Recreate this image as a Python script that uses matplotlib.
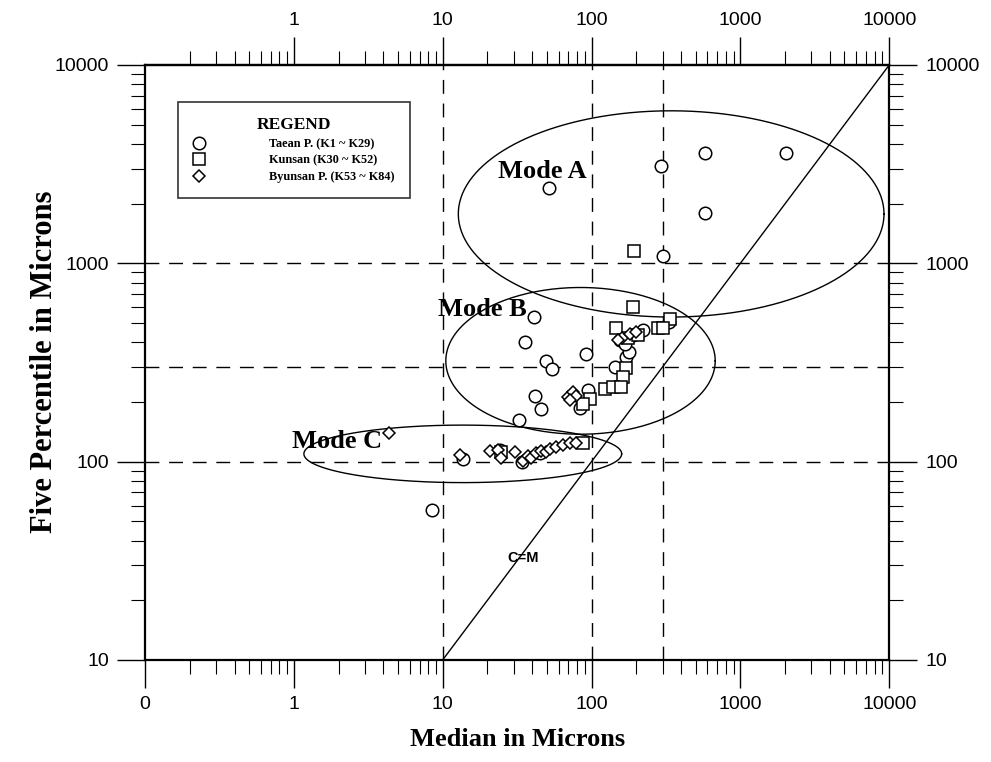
import numpy as np
import matplotlib.pyplot as plt
from matplotlib.lines import Line2D
from matplotlib.ticker import LogLocator, NullFormatter

# Taean P. (K1 ~ K29)
taean_x = [51.7, 294, 581, 2040, 581, 303,
           41.0, 35.7, 49.4, 54.2, 91.8, 41.6, 45.7, 32.5, 83.7, 94.7,
           143.9, 170.6, 178.9, 155.6, 190, 222, 168, 332,
           13.6, 8.5, 24.2, 34.0, 45.0]
taean_y = [2400, 3100, 3605, 3605, 1795, 1090,
           537, 401, 322, 293, 349, 214, 184, 162, 187, 230,
           300, 337, 357, 411, 435, 462, 392, 506,
           103, 57, 114.5, 99.7, 110.6]

# Kunsan (K30 ~ K52)
kunsan_x = [193, 190, 338, 280, 146, 170.6, 163, 123, 139.6, 158,
            97.7, 87.7, 176, 303, 205.6, 87.7, 24.6]
kunsan_y = [1155, 603, 524, 472, 472, 297, 267, 233, 238, 238,
            207, 195, 420, 472, 435, 124.3, 111.9]

# Byunsan P. (K53 ~ K84)
byunsan_x = [4.33, 13.1, 20.7, 23.5, 24.6, 30.5, 34.6, 37.4, 39.1, 42.3,
             45.7, 49.4, 52.5, 57.7, 64.3, 71.7, 78.6,
             72.8, 69.5, 75.0, 78.6, 71.7, 160, 180, 200, 150]
byunsan_y = [139.6, 108.1, 113.2, 114.5, 104.4, 111.9, 100.8, 106.9, 104.4, 110.6,
             113.2, 111.9, 115.9, 118.6, 121.4, 124.3, 124.3,
             217, 212, 225, 214, 205, 420, 440, 450, 410]

x_ticks = [0.1, 1, 10, 100, 1000, 10000]
x_labels = ["0", "1", "10", "100", "1000", "10000"]
top_ticks = [1, 10, 100, 1000, 10000]
y_ticks = [10, 100, 1000, 10000]
y_labels = ["10", "100", "1000", "10000"]

guide_x = [10, 100, 300]
guide_y = [100, 300, 1000]

# zone ellipses in log10 units: centre x, centre y, width (decades), height (decades)
modes = {
    "Mode A": (2.535, 3.249, 2.86, 1.04),
    "Mode B": (1.926, 2.508, 1.81, 0.74),
    "Mode C": (1.135, 2.039, 2.135, 0.29),
}

serif = "Liberation Serif"
sans = "Liberation Sans"

fig = plt.figure(figsize=(9.91, 7.62), dpi=100)
ax = fig.add_axes([0.1463, 0.134, 0.751, 0.7807])
ax.set_xscale("log")
ax.set_yscale("log")
ax.set_xlim(0.1, 10000)
ax.set_ylim(10, 10000)

for gx in guide_x:
    ax.axvline(gx, color="black", lw=1, ls=(0, (10, 7)))
for gy in guide_y:
    ax.axhline(gy, color="black", lw=1, ls=(0, (10, 7)))

# C = M line
ax.plot([10, 10000], [10, 10000], color="black", lw=1)

t = np.linspace(0, 2 * np.pi, 300)
for name, (cx, cy, w, h) in modes.items():
    ex = 10 ** (cx + w / 2 * np.cos(t))
    ey = 10 ** (cy + h / 2 * np.sin(t))
    ax.plot(ex, ey, color="black", lw=1)

mk = dict(ls="none", mfc="white", mec="black", mew=1.1)
ax.plot(taean_x, taean_y, marker="o", ms=9, **mk)
ax.plot(kunsan_x, kunsan_y, marker="s", ms=9, **mk)
ax.plot(byunsan_x, byunsan_y, marker="D", ms=6.5, **mk)

mode_font = dict(fontsize=19, fontweight="bold", family=serif, ha="center", va="center")
ax.text(47, 2890, "Mode A", **mode_font)
ax.text(18.6, 582, "Mode B", **mode_font)
ax.text(1.96, 127, "Mode C", **mode_font)
ax.text(34.6, 32.7, "C=M", fontsize=10.5, fontweight="bold", family=sans,
        ha="center", va="center")

# legend
handles = [
    Line2D([], [], marker="o", ms=9, **mk),
    Line2D([], [], marker="s", ms=9, **mk),
    Line2D([], [], marker="D", ms=6.5, **mk),
]
names = ["Taean P. (K1 ~ K29)", "Kunsan (K30 ~ K52)", "Byunsan P. (K53 ~ K84)"]
leg = ax.legend(handles, names, loc="upper left", bbox_to_anchor=(0.044, 0.938),
                prop={"family": serif, "weight": "bold", "size": 8.8},
                title="REGEND", title_fontproperties={"family": serif, "weight": "bold", "size": 12.5},
                frameon=True, fancybox=False, edgecolor="black", handlelength=1,
                handletextpad=5.2, labelspacing=0.38, borderpad=1.25, borderaxespad=0)
leg.get_frame().set_linewidth(1.2)

# axes, ticks
ax.set_xticks(x_ticks, labels=x_labels)
ax.set_yticks(y_ticks, labels=y_labels)
ax.xaxis.set_minor_locator(LogLocator(base=10, subs=np.arange(2, 10)))
ax.yaxis.set_minor_locator(LogLocator(base=10, subs=np.arange(2, 10)))
ax.xaxis.set_minor_formatter(NullFormatter())
ax.yaxis.set_minor_formatter(NullFormatter())
ax.tick_params(which="major", direction="out", length=20, width=1, labelsize=14,
               pad=6, right=True, labelright=True)
ax.tick_params(which="minor", direction="out", length=10, width=0.8, right=True)

top = ax.secondary_xaxis("top")
top.set_xticks(top_ticks, labels=[str(v) for v in top_ticks])
top.xaxis.set_minor_locator(LogLocator(base=10, subs=np.arange(2, 10)))
top.xaxis.set_minor_formatter(NullFormatter())
top.tick_params(which="major", direction="out", length=20, width=1, labelsize=14, pad=6)
top.tick_params(which="minor", direction="out", length=10, width=0.8)
for lab in ax.get_xticklabels() + ax.get_yticklabels() + top.get_xticklabels():
    lab.set_family(sans)

for sp in ax.spines.values():
    sp.set_linewidth(1.6)
top.spines["top"].set_linewidth(1.6)

fig.text(518 / 991, 1 - 740 / 762, "Median in Microns", fontsize=19, fontweight="bold",
         family=serif, ha="center", va="center")
fig.text(45 / 991, 1 - 362 / 762, "Five Percentile in Microns", fontsize=22,
         fontweight="bold", family=serif, ha="center", va="center", rotation=90)

fig.savefig("out.png", dpi=100)
